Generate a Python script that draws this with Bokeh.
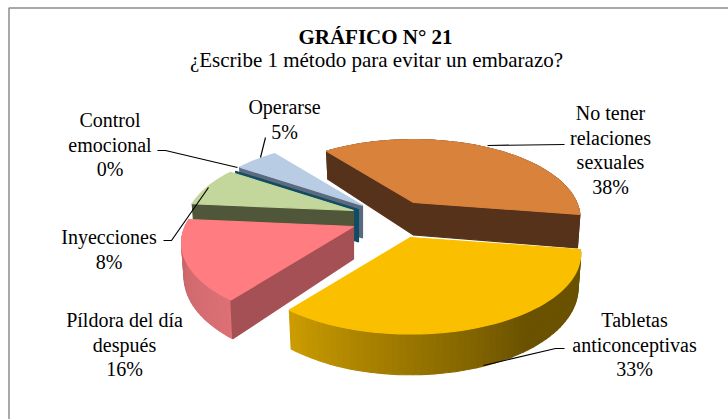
import math
from bokeh.plotting import figure
from bokeh.models import Range1d, ColumnDataSource
from bokeh.core.properties import value
from bokeh.embed import file_html
from bokeh.resources import INLINE

# ---- data ----
categories = ["No tener relaciones sexuales", "Tabletas anticonceptivas", "Píldora del día después",
              "Inyecciones", "Control emocional", "Operarse"]
percent = [38, 33, 16, 8, 0, 5]
title = "GRÁFICO N° 21"
subtitle = "¿Escribe 1 método para evitar un embarazo?"
label_lines = [["No tener", "relaciones", "sexuales", "38%"],
               ["Tabletas", "anticonceptivas", "33%"],
               ["Píldora del día", "después", "16%"],
               ["Inyecciones", "8%"],
               ["Control", "emocional", "0%"],
               ["Operarse", "5%"]]

# ---- layout and style ----
W, H = 728, 419
START = -38.0                 # first slice edge, degrees clockwise from up
RX, RY, PERSP, DEPTH = 170.0, 78.5, 0.207, 32.5
apex = [(413, 202), (410, 237), (353, 226), (353, 210), (358, 209), (362, 205)]
radius = [0.96, 0.98, 0.99, 0.97, 0.97, 0.97]
top_col = ["#d8823c", "#fac000", "#ff7c80", "#c3d69b", "#215968", "#b8cce4"]
cut_col = ["#57321a", "#6a5200", "#a45054", "#4f5639", "#0f4c66", "#5c6a7e"]
label_pos = [(610, 112.5), (634, 319.5), (124, 319.5), (108.5, 236.5), (109.5, 119.5), (284, 106.5)]
line_step = 24.5
FONT = "Liberation Serif"
leaders = [([564, 487], [144, 145]),
           ([564, 555, 483], [348, 348, 365]),
           ([163, 171, 208], [240, 240, 187]),
           ([157, 165, 237], [150, 150, 167]),
           ([265, 260], [137, 157])]

edges = [START]
for v in percent:
    edges.append(edges[-1] + v * 3.6)


def proj(i, deg, bottom=False):
    t = math.radians(deg)
    r = radius[i]
    X, Y = r * math.sin(t), -r * math.cos(t)
    s = 1 / (1 - PERSP * Y)
    x, y = RX * X * s, RY * Y * s
    if bottom:
        return apex[i][0] + x * 0.985, apex[i][1] + y + DEPTH * s
    return apex[i][0] + x, apex[i][1] + y


def arc(i, a, b, bottom=False):
    n = max(2, int(abs(b - a) / 2) + 1)
    return [proj(i, a + (b - a) * k / (n - 1), bottom) for k in range(n)]


def mix(c1, c2, t):
    t = max(0.0, min(1.0, t))
    a = [int(c1[j:j + 2], 16) for j in (1, 3, 5)]
    b = [int(c2[j:j + 2], 16) for j in (1, 3, 5)]
    return "#%02x%02x%02x" % tuple(round(a[j] + (b[j] - a[j]) * t) for j in range(3))


p = figure(width=W, height=H, x_range=Range1d(0, W), y_range=Range1d(H, 0),
           output_backend="svg", toolbar_location=None, min_border=0)
p.axis.visible = False
p.grid.visible = False
p.outline_line_color = None
p.background_fill_color = "white"
p.border_fill_color = "white"

polys = {"xs": [], "ys": [], "c": []}


def add(pts, col):
    polys["xs"].append([q[0] for q in pts])
    polys["ys"].append([q[1] for q in pts])
    polys["c"].append(col)


def cut(i, deg):
    add([(apex[i][0], apex[i][1]), proj(i, deg), proj(i, deg, True),
         (apex[i][0], apex[i][1] + DEPTH)], cut_col[i])


def top(i):
    add([apex[i]] + arc(i, edges[i], edges[i + 1]), top_col[i])


def rim(i, shade):
    a, b = edges[i], edges[i + 1]
    n = max(2, int((b - a) / 2))
    for k in range(n):
        d1, d2 = a + (b - a) * k / n, a + (b - a) * (k + 1) / n
        add([proj(i, d1), proj(i, d2), proj(i, d2, True), proj(i, d1, True)], shade((d1 + d2) / 2))


# back to front: Operarse, Control, Inyecciones, Píldora, No tener, Tabletas
cut(5, edges[5]); top(5)
cut(4, edges[4])
cut(3, edges[3]); top(3)
rim(2, lambda d: mix("#dc7075", "#c26468", (d - edges[2]) / (edges[3] - edges[2])))
cut(2, edges[2]); top(2)
cut(0, edges[0]); cut(0, edges[1]); rim(0, lambda d: cut_col[0]); top(0)
rim(1, lambda d: mix("#6a5200", "#cc9c00", (d - 145) / (edges[2] - 145)))
top(1)

src = ColumnDataSource(polys)
p.patches("xs", "ys", source=src, fill_color="c", line_color="c", line_width=1.2)

for xs, ys in leaders:
    p.line(xs, ys, line_color="black", line_width=1.2)

# frame
p.line([W, 8.5, 8.5], [7.5, 7.5, H], line_color="#8c8c8c", line_width=1.5)


def txt(x, y, s, size, style="normal"):
    p.text([x], [y], text=[s], text_font=value(FONT), text_font_size=size, text_font_style=style,
           text_align="center", text_baseline="middle", text_color="black")


txt(375, 36.5, title, "21px", "bold")
txt(376, 59.5, subtitle, "21px")
for pos, lines in zip(label_pos, label_lines):
    for k, s in enumerate(lines):
        txt(pos[0], pos[1] + k * line_step, s, "20px")

open("out.html", "w").write(file_html(p, INLINE))
